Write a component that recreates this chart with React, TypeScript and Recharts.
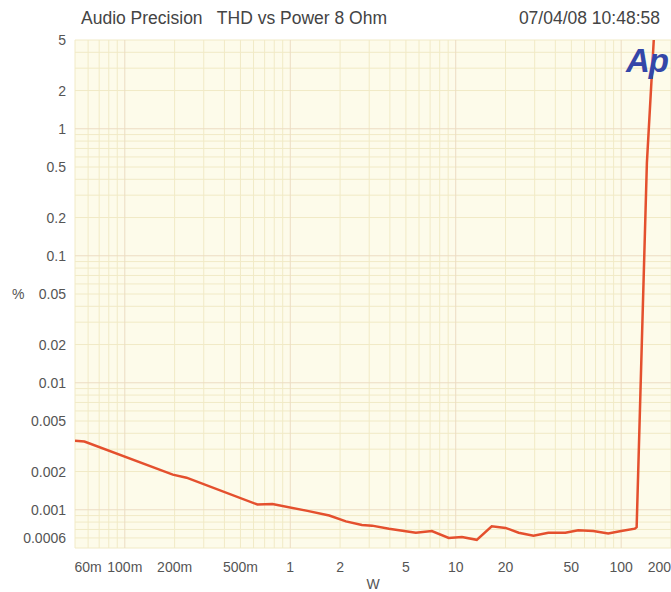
import React from "react";
import { LineChart, Line, XAxis, YAxis, CartesianGrid } from "recharts";

// THD+N sweep, 8 ohm load
const POWER_W = [
  0.05, 0.057, 0.195, 0.236, 0.633, 0.78, 1.27, 1.72, 2.17, 2.71, 3.12, 3.95, 5.74, 7.17, 9.07, 10.9,
  13.4, 16.5, 20, 24, 29.5, 36.3, 46, 55, 67.8, 83.5, 100, 121, 124, 143, 158,
];
const THD_PCT = [
  0.0035, 0.00345, 0.00189, 0.00179, 0.0011, 0.00111, 0.00098, 0.0009, 0.00081, 0.00076, 0.00075,
  0.00071, 0.00066, 0.00068, 0.0006, 0.00061, 0.00058, 0.00074, 0.00072, 0.00066, 0.000625, 0.00066,
  0.00066, 0.00069, 0.00068, 0.00065, 0.00068, 0.00071, 0.00073, 0.54, 5.5,
];

const X_TICKS = [0.06, 0.1, 0.2, 0.5, 1, 2, 5, 10, 20, 50, 100, 200];
const X_LABELS = ["60m", "100m", "200m", "500m", "1", "2", "5", "10", "20", "50", "100", "200"];
const Y_TICKS = [5, 2, 1, 0.5, 0.2, 0.1, 0.05, 0.02, 0.01, 0.005, 0.002, 0.001, 0.0006];

// graph-paper lines
const X_MINOR = [
  0.05, 0.06, 0.07, 0.08, 0.09, 0.2, 0.3, 0.4, 0.5, 0.6, 0.7, 0.8, 0.9, 2, 3, 4, 5, 6, 7, 8, 9,
  20, 30, 40, 50, 60, 70, 80, 90, 200,
];
const X_MAJOR = [0.1, 1, 10, 100];
const Y_MINOR = [
  0.0005, 0.0006, 0.0007, 0.0008, 0.0009, 0.002, 0.003, 0.004, 0.005, 0.006, 0.007, 0.008, 0.009,
  0.02, 0.03, 0.04, 0.05, 0.06, 0.07, 0.08, 0.09, 0.2, 0.3, 0.4, 0.5, 0.6, 0.7, 0.8, 0.9, 2, 3, 4, 5,
];
const Y_MAJOR = [0.001, 0.01, 0.1, 1];

const data = POWER_W.map((w, i) => ({ w, thd: THD_PCT[i] }));

const FONT = "'Liberation Sans', Arial, sans-serif";

function XTick(props: any) {
  const { x, y, payload, index } = props;
  const i = X_TICKS.indexOf(payload.value);
  const last = index === X_TICKS.length - 1;
  return (
    <text x={x} y={y} dy="0.71em" textAnchor={last ? "end" : "middle"} fontSize={14} fill="#555" fontFamily={FONT}>
      {X_LABELS[i] ?? payload.value}
    </text>
  );
}

export default function App() {
  return (
    <div style={{ position: "absolute", left: 0, top: 0, width: 671, height: 592, background: "#fff" }}>
      <LineChart width={671} height={592} data={data} margin={{ top: 40, right: 0, left: 0, bottom: 0 }}>
        <CartesianGrid
          fill="#fdfbea"
          stroke="#f1eac6"
          strokeWidth={1}
          horizontalValues={Y_MINOR}
          verticalValues={X_MINOR}
        />
        <CartesianGrid stroke="#ecdcc2" strokeWidth={1} horizontalValues={Y_MAJOR} verticalValues={X_MAJOR} />
        <XAxis
          dataKey="w"
          type="number"
          scale="log"
          domain={[0.05, 200]}
          allowDataOverflow
          ticks={X_TICKS}
          interval={0}
          tick={<XTick />}
          tickLine={false}
          axisLine={false}
          tickMargin={8}
          height={44}
          label={{ value: "W", position: "insideBottom", offset: 3, fontSize: 14, fill: "#555", fontFamily: FONT }}
        />
        <YAxis
          dataKey="thd"
          type="number"
          scale="log"
          domain={[0.0005, 5]}
          allowDataOverflow
          ticks={Y_TICKS}
          interval={0}
          tickFormatter={(v: number) => String(v)}
          tick={{ fontSize: 14, fill: "#555", fontFamily: FONT }}
          tickLine={false}
          axisLine={false}
          tickMargin={3}
          width={75}
          label={{ value: "%", position: "insideLeft", offset: 12, fontSize: 14, fill: "#555", fontFamily: FONT }}
        />
        <Line
          type="linear"
          dataKey="thd"
          stroke="#e4502e"
          strokeWidth={2.5}
          dot={false}
          isAnimationActive={false}
        />
      </LineChart>
      <svg
        width={671}
        height={592}
        style={{ position: "absolute", left: 0, top: 0, pointerEvents: "none" }}
      >
        <text x={81} y={24} fontSize={17.5} fill="#444" fontFamily={FONT} xmlSpace="preserve">
          Audio Precision   THD vs Power 8 Ohm
        </text>
        <text x={660} y={24} fontSize={17.5} fill="#444" fontFamily={FONT} textAnchor="end">
          07/04/08 10:48:58
        </text>
        <text x={626} y={72} fontSize={33} fill="#3446a8" fontFamily={FONT} fontWeight="bold" fontStyle="italic" letterSpacing={-1}>
          Ap
        </text>
      </svg>
    </div>
  );
}
